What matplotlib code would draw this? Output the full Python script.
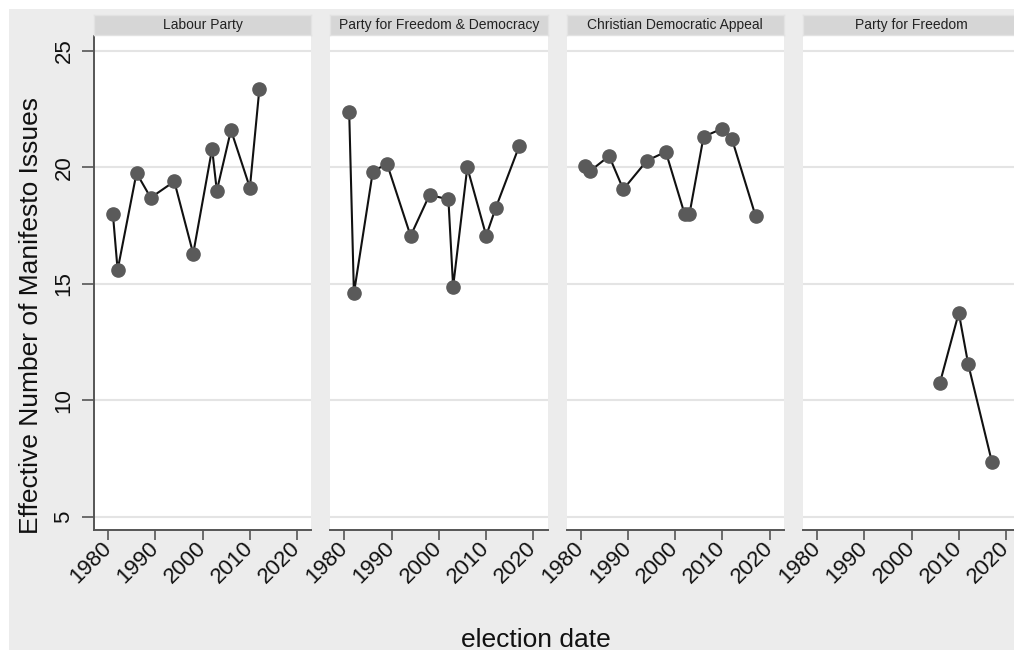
import matplotlib
matplotlib.use("Agg")
import matplotlib.pyplot as plt
from matplotlib.patches import Rectangle

plt.rcParams['font.family'] = ['Liberation Sans', 'DejaVu Sans']

# effective number of manifesto issues per party, by election year
parties = ["Labour Party", "Party for Freedom & Democracy",
           "Christian Democratic Appeal", "Party for Freedom"]

years_lab = [1981, 1982, 1986, 1989, 1994, 1998, 2002, 2003, 2006, 2010, 2012]
enmi_lab = [18.0, 15.6, 19.76, 18.7, 19.4, 16.3, 20.8, 19.0, 21.6, 19.13, 23.35]

years_vvd = [1981, 1982, 1986, 1989, 1994, 1998, 2002, 2003, 2006, 2010, 2012, 2017]
enmi_vvd = [22.37, 14.6, 19.82, 20.16, 17.06, 18.82, 18.63, 14.88, 20.0, 17.07, 18.25, 20.92]

years_cda = [1981, 1982, 1986, 1989, 1994, 1998, 2002, 2003, 2006, 2010, 2012, 2017]
enmi_cda = [20.08, 19.85, 20.49, 19.06, 20.29, 20.67, 17.99, 17.99, 21.32, 21.67, 21.22, 17.92]

years_pvv = [2006, 2010, 2012, 2017]
enmi_pvv = [10.75, 13.76, 11.55, 7.37]

x_ticks = [1980, 1990, 2000, 2010, 2020]
y_ticks = [5, 10, 15, 20, 25]

series = [(years_lab, enmi_lab), (years_vvd, enmi_vvd),
          (years_cda, enmi_cda), (years_pvv, enmi_pvv)]

W, H = 1014, 650
fig = plt.figure(figsize=(W / 100, H / 100), dpi=100, facecolor='white')

# grey graph region (thin white border top/left like the original export)
fig.patches.append(Rectangle((9 / W, 0), 1, 1 - 9 / H, transform=fig.transFigure,
                             facecolor='#ececec', edgecolor='none', zorder=-10))

axis_col = '#555555'
step = 236.3
for i, (name, (xs, ys)) in enumerate(zip(parties, series)):
    left = (94 + i * step) / W
    width = 217.3 / W
    ax = fig.add_axes([left, 120 / H, width, 494 / H])
    ax.set_facecolor('white')
    ax.set_xlim(1977, 2023)
    ax.set_ylim(4.44, 25.64)
    ax.set_yticks(y_ticks)
    ax.set_xticks(x_ticks)
    ax.grid(axis='y', color='#e4e4e4', linewidth=1.5)
    ax.set_axisbelow(True)
    for s in ['top', 'right']:
        ax.spines[s].set_visible(False)
    ax.spines['bottom'].set_color(axis_col)
    ax.spines['bottom'].set_linewidth(1.4)
    ax.tick_params(axis='x', length=7, width=1.2, color=axis_col, pad=4,
                   labelsize=16, labelcolor='#111111')
    for lab in ax.get_xticklabels():
        lab.set_rotation(45)
        lab.set_ha('right')
        lab.set_va('center')
        lab.set_rotation_mode('anchor')
    if i == 0:
        ax.spines['left'].set_color(axis_col)
        ax.spines['left'].set_linewidth(1.4)
        ax.tick_params(axis='y', length=9, width=1.2, color=axis_col, pad=5,
                       labelsize=16, labelcolor='#111111')
        for lab in ax.get_yticklabels():
            lab.set_rotation(90)
            lab.set_va('center')
    else:
        ax.spines['left'].set_visible(False)
        ax.tick_params(axis='y', length=0, labelleft=False)

    ax.plot(xs, ys, color='#111111', linewidth=1.5, zorder=2)
    ax.plot(xs, ys, linestyle='none', marker='o', markersize=9.5,
            markerfacecolor='#5a5a5a', markeredgecolor='#5a5a5a', zorder=3)

    # facet header strip
    sax = fig.add_axes([left, (H - 35) / H, width, 20 / H])
    sax.set_facecolor('#d6d6d6')
    sax.set_xticks([])
    sax.set_yticks([])
    for s in sax.spines.values():
        s.set_color('#e2e2e2')
        s.set_linewidth(1)
    sax.text(0.5, 0.5, name, ha='center', va='center', fontsize=10,
             color='#222222', transform=sax.transAxes)

fig.text(31 / W, 1 - 316 / H, "Effective Number of Manifesto Issues",
         rotation=90, ha='center', va='center', fontsize=19, color='#111111')
fig.text(536 / W, 1 - 647 / H, "election date", ha='center', va='baseline',
         fontsize=19, color='#111111')

fig.savefig("out.png", dpi=100, facecolor=fig.get_facecolor())
